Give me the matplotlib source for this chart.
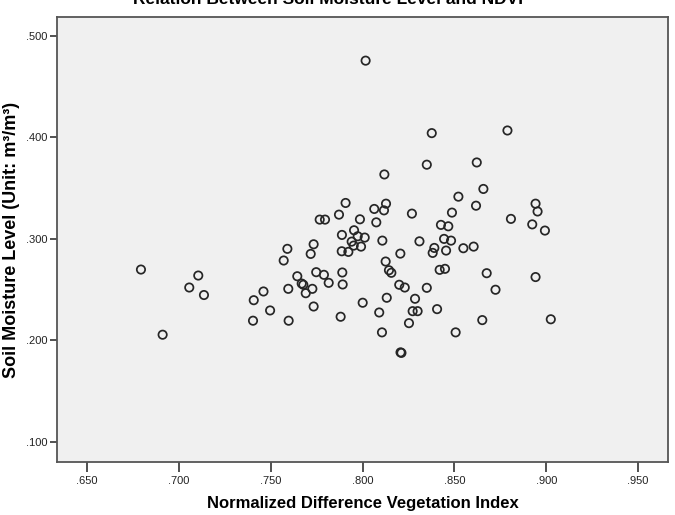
import matplotlib
matplotlib.use("Agg")
import matplotlib.pyplot as plt
from matplotlib.ticker import FuncFormatter, MultipleLocator

plt.rcParams["font.family"] = ["Liberation Sans", "DejaVu Sans"]

# NDVI (x) and soil moisture (y)
ndvi = [
    0.8017, 0.8119, 0.8377, 0.8789, 0.8350, 0.8622, 0.8658, 0.8522,
    0.6794, 0.7106, 0.7057, 0.7137, 0.6912, 0.7461, 0.7408, 0.7497, 0.7404,
    0.7908, 0.7872, 0.8064, 0.8128, 0.8117, 0.8269, 0.7767, 0.7796,
    0.7986, 0.8075, 0.7888, 0.7954, 0.7974, 0.8012, 0.7941, 0.7952,
    0.7992, 0.7887, 0.7923, 0.8108, 0.8310, 0.7734, 0.7591, 0.7718,
    0.7571, 0.8206, 0.8126, 0.8144, 0.8157, 0.7748, 0.7790, 0.7816,
    0.7890, 0.7892, 0.7645, 0.7669, 0.7678, 0.7727, 0.7691, 0.7596,
    0.8200, 0.8230, 0.8132, 0.8286, 0.8001, 0.7734, 0.8091, 0.8273,
    0.8300, 0.7881, 0.7598, 0.8253, 0.8106, 0.8207, 0.8212,
    0.8618, 0.8942, 0.8953, 0.8487, 0.8808, 0.8427, 0.8467, 0.8924,
    0.8993, 0.8444, 0.8482, 0.8391, 0.8382, 0.8455, 0.8549, 0.8605,
    0.8420, 0.8449, 0.8676, 0.8942, 0.8350, 0.8724, 0.8406, 0.8652,
    0.9025, 0.8507,
]
soil_moisture = [
    0.4757, 0.3636, 0.4043, 0.4069, 0.3732, 0.3754, 0.3493, 0.3417,
    0.2699, 0.2640, 0.2522, 0.2448, 0.2057, 0.2483, 0.2397, 0.2296, 0.2195,
    0.3355, 0.3240, 0.3296, 0.3348, 0.3282, 0.3250, 0.3191, 0.3191,
    0.3194, 0.3164, 0.3040, 0.3086, 0.3027, 0.3014, 0.2974, 0.2935,
    0.2925, 0.2879, 0.2873, 0.2984, 0.2977, 0.2948, 0.2903, 0.2853,
    0.2788, 0.2856, 0.2778, 0.2692, 0.2667, 0.2673, 0.2647, 0.2568,
    0.2670, 0.2552, 0.2633, 0.2561, 0.2549, 0.2509, 0.2466, 0.2509,
    0.2549, 0.2522, 0.2421, 0.2411, 0.2372, 0.2335, 0.2276, 0.2289,
    0.2289, 0.2234, 0.2195, 0.2171, 0.2080, 0.1883, 0.1878,
    0.3328, 0.3348, 0.3271, 0.3260, 0.3198, 0.3139, 0.3125, 0.3144,
    0.3083, 0.3001, 0.2984, 0.2912, 0.2863, 0.2886, 0.2909, 0.2925,
    0.2696, 0.2706, 0.2663, 0.2625, 0.2519, 0.2500, 0.2309, 0.2201,
    0.2209, 0.2080,
]

TITLE  = "Relation Between Soil Moisture Level and NDVI"
XLABEL = "Normalized Difference Vegetation Index"
YLABEL = "Soil Moisture Level (Unit: m\u00b3/m\u00b3)"


def no_lead_zero(v, pos):
    return f"{v:.3f}".lstrip("0")


fig = plt.figure(figsize=(6.75, 5.15), dpi=100)
ax = fig.add_axes([57 / 675, 53 / 515, 611 / 675, 445 / 515])
ax.set_facecolor("#F0F0F0")

ax.scatter(ndvi, soil_moisture, s=36, facecolors="none",
           edgecolors="#262626", linewidths=1.25, zorder=3)

ax.set_xlim(0.6337, 0.9663)
ax.set_ylim(0.0803, 0.5187)
ax.xaxis.set_major_locator(MultipleLocator(0.05))
ax.yaxis.set_major_locator(MultipleLocator(0.1))
ax.xaxis.set_major_formatter(FuncFormatter(no_lead_zero))
ax.yaxis.set_major_formatter(FuncFormatter(no_lead_zero))

for sp in ax.spines.values():
    sp.set_color("#555555")
    sp.set_linewidth(1.3)

ax.tick_params(axis="x", direction="out", length=7, width=1.2,
               color="#333333", labelsize=8, pad=3, labelcolor="#222222")
ax.tick_params(axis="y", direction="out", length=5, width=1.2,
               color="#333333", labelsize=8, pad=2, labelcolor="#222222")

ax.set_xlabel(XLABEL, fontsize=12, fontweight="bold", labelpad=7)
ax.set_ylabel(YLABEL, fontsize=13, fontweight="bold", labelpad=4)

# title sits at the very top edge, partly clipped as in the source
fig.text(328 / 675, 1.0 + 1 / 515, TITLE, ha="center", va="center",
         fontsize=12.5, fontweight="bold")

fig.savefig("out.png", dpi=100)
